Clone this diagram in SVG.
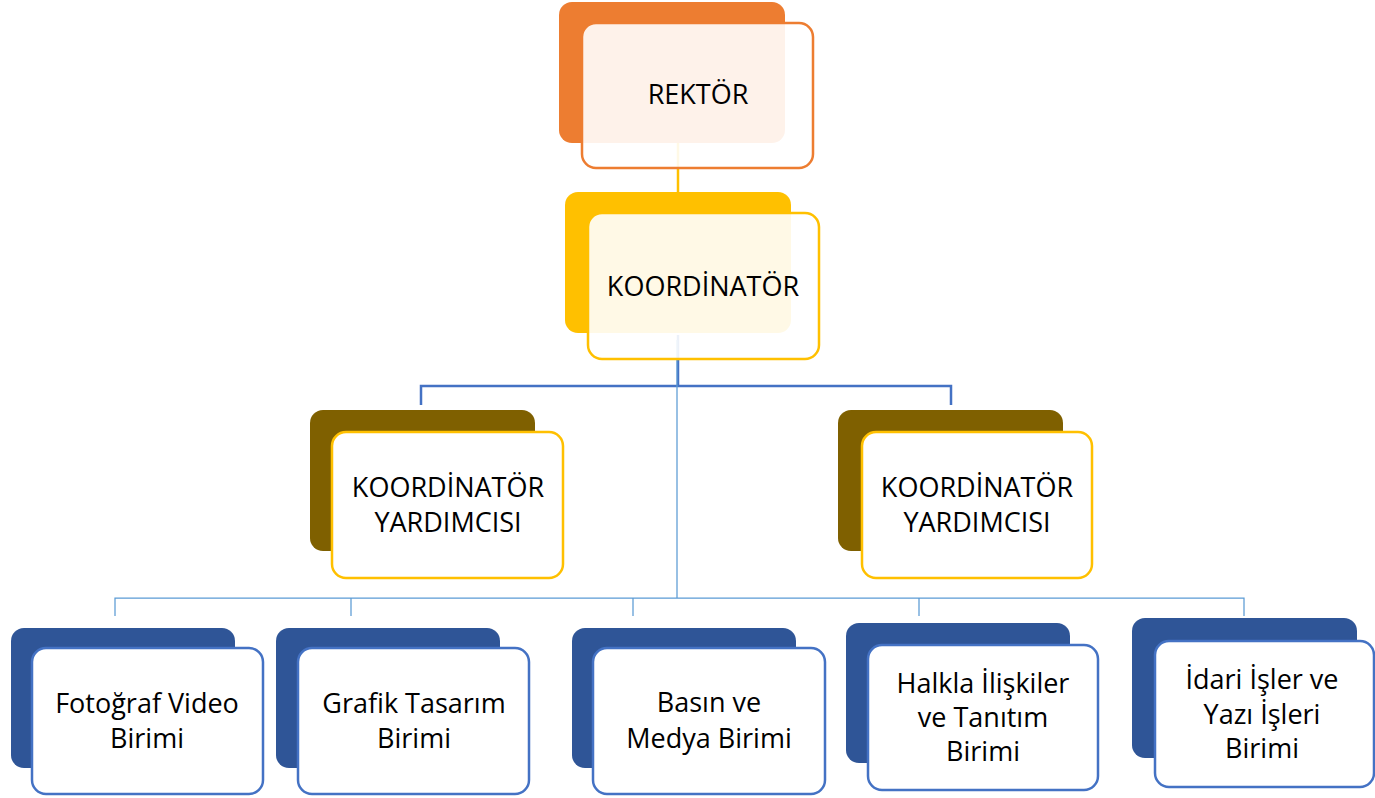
<svg xmlns="http://www.w3.org/2000/svg" width="1375" height="798" viewBox="0 0 1375 798">
<style>
.t{font-family:"Open Sans","Liberation Sans",sans-serif;font-size:27px;fill:#000;text-anchor:middle}
.thick{stroke:#4472C4;stroke-width:2.5;fill:none}
.thin{stroke:#5B9BD5;stroke-width:1.25;fill:none}
.bk-blue{fill:#2F5597}
.fr-blue{fill:#fff;stroke:#4472C4;stroke-width:2.5}
.fr-yel{fill:#fff;stroke:#FFC000;stroke-width:2.5}
</style>
<rect width="1375" height="798" fill="#fff"/>
<g id="connectors">
<line x1="678" y1="143" x2="678" y2="192" stroke="#FFC000" stroke-width="2.5"/>
<path class="thick" d="M678 335V386M421 405V386H951V405"/>
<path class="thin" d="M677 340V598M115 616V598H1244V616M351 598V616M633 598V616M919 598V616"/>
</g>
<g id="rektor">
<rect x="559" y="2" width="226" height="141" rx="13" fill="#ED7D31"/>
<rect x="582" y="23" width="231" height="145" rx="14" fill="#fff" fill-opacity="0.9" stroke="#ED7D31" stroke-width="2.5"/>
<text class="t" x="698" y="104">REKTÖR</text>
</g>
<g id="koordinator">
<rect x="565" y="192" width="226" height="141" rx="13" fill="#FFC000"/>
<rect x="588" y="213" width="231" height="146" rx="14" fill="#fff" fill-opacity="0.9" stroke="#FFC000" stroke-width="2.5"/>
<text class="t" x="703" y="296">KOORDİNATÖR</text>
</g>
<g id="yardimci-sol">
<rect x="310" y="410" width="225" height="141" rx="13" fill="#7F6000"/>
<rect class="fr-yel" x="332" y="432" width="231" height="146" rx="14"/>
<text class="t" x="448" y="497">KOORDİNATÖR</text>
<text class="t" x="448" y="532">YARDIMCISI</text>
</g>
<g id="yardimci-sag">
<rect x="838" y="410" width="225" height="141" rx="13" fill="#7F6000"/>
<rect class="fr-yel" x="862" y="432" width="230" height="146" rx="14"/>
<text class="t" x="977" y="497">KOORDİNATÖR</text>
<text class="t" x="977" y="532">YARDIMCISI</text>
</g>
<g id="fotograf">
<rect class="bk-blue" x="11" y="628" width="224" height="140" rx="13"/>
<rect class="fr-blue" x="32" y="648" width="231" height="146" rx="14"/>
<text class="t" x="147" y="713">Fotoğraf Video</text>
<text class="t" x="147" y="748">Birimi</text>
</g>
<g id="grafik">
<rect class="bk-blue" x="276" y="628" width="224" height="140" rx="13"/>
<rect class="fr-blue" x="298" y="648" width="231" height="146" rx="14"/>
<text class="t" x="414" y="713">Grafik Tasarım</text>
<text class="t" x="414" y="748">Birimi</text>
</g>
<g id="basin">
<rect class="bk-blue" x="572" y="628" width="224" height="140" rx="13"/>
<rect class="fr-blue" x="593" y="648" width="232" height="146" rx="14"/>
<text class="t" x="709" y="712">Basın ve</text>
<text class="t" x="709" y="748">Medya Birimi</text>
</g>
<g id="halkla">
<rect class="bk-blue" x="846" y="623" width="224" height="140" rx="13"/>
<rect class="fr-blue" x="868" y="645" width="230" height="145" rx="14"/>
<text class="t" x="983" y="693">Halkla İlişkiler</text>
<text class="t" x="983" y="727">ve Tanıtım</text>
<text class="t" x="983" y="761">Birimi</text>
</g>
<g id="idari">
<rect class="bk-blue" x="1132" y="618" width="225" height="140" rx="13"/>
<rect class="fr-blue" x="1155" y="641" width="219" height="146" rx="14"/>
<text class="t" x="1262" y="689">İdari İşler ve</text>
<text class="t" x="1262" y="724">Yazı İşleri</text>
<text class="t" x="1262" y="758">Birimi</text>
</g>
</svg>
